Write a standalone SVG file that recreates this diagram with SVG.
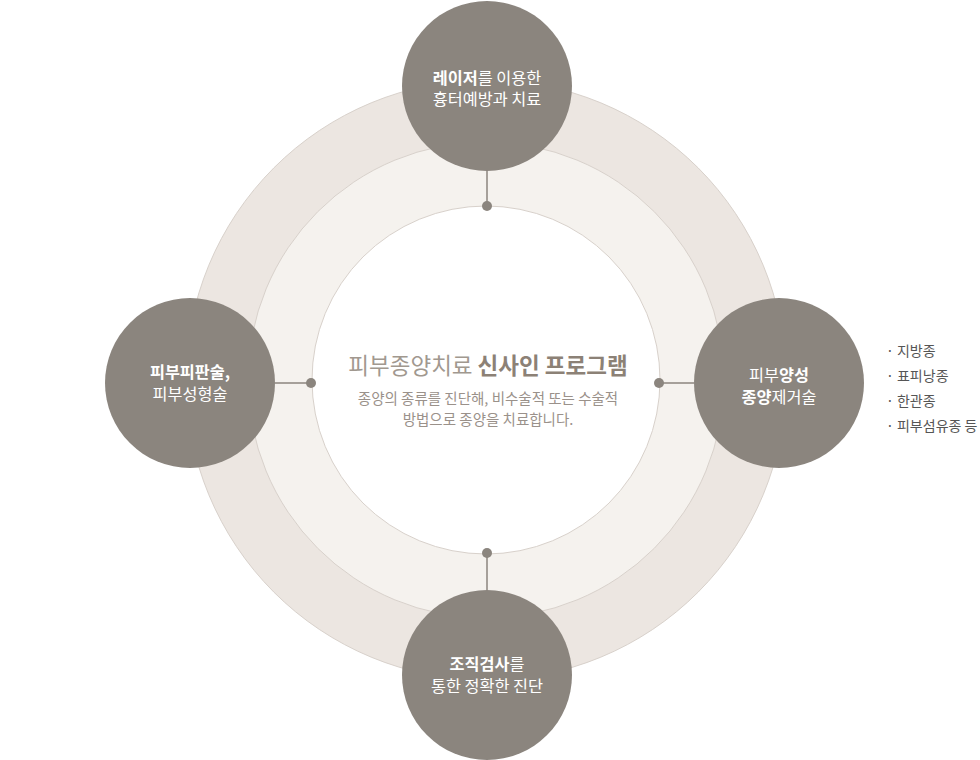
<svg xmlns="http://www.w3.org/2000/svg" width="980" height="760" viewBox="0 0 980 760">
<style>
text{font-family:"Noto Sans CJK KR","Noto Sans",sans-serif;}
.node{fill:#8b857e;}
.nt{fill:#ffffff;font-size:16.3px;text-anchor:middle;}
.b{font-weight:bold;}
.conn line{stroke:#8b857e;stroke-width:1.5;}
.conn circle{fill:#8b857e;}
.list{fill:#555;font-size:14px;}
</style>
<g id="rings">
<circle cx="486" cy="380" r="300" fill="#ece6e1" stroke="#d8d1cb" stroke-width="1"/>
<circle cx="486" cy="380" r="238" fill="#f5f2ee" stroke="#d8d1cb" stroke-width="1"/>
<circle cx="486" cy="380" r="174" fill="#ffffff" stroke="#d8d1cb" stroke-width="1"/>
</g>
<g id="connectors" class="conn">
<line x1="487" y1="171" x2="487" y2="206"/>
<circle cx="487" cy="206" r="5"/>
<line x1="275" y1="383" x2="311" y2="383"/>
<circle cx="311" cy="383" r="5"/>
<line x1="659" y1="383" x2="694" y2="383"/>
<circle cx="659" cy="383" r="5"/>
<line x1="487" y1="553" x2="487" y2="590"/>
<circle cx="487" cy="553" r="5"/>
</g>
<g id="center">
<text x="488" y="374" text-anchor="middle" font-size="22.5" fill="#a1988f">피부종양치료 <tspan class="b" fill="#8c8176">신사인 프로그램</tspan></text>
<text x="488" y="404" text-anchor="middle" font-size="14.5" fill="#9a918a">종양의 종류를 진단해, 비수술적 또는 수술적</text>
<text x="488" y="425" text-anchor="middle" font-size="14.5" fill="#9a918a">방법으로 종양을 치료합니다.</text>
</g>
<g id="node-top">
<circle class="node" cx="487" cy="86" r="85"/>
<text class="nt" x="487" y="84"><tspan class="b">레이저</tspan>를 이용한</text>
<text class="nt" x="487" y="105">흉터예방과 치료</text>
</g>
<g id="node-left">
<circle class="node" cx="190" cy="383" r="85"/>
<text class="nt b" x="190" y="378">피부피판술,</text>
<text class="nt" x="190" y="400">피부성형술</text>
</g>
<g id="node-right">
<circle class="node" cx="779" cy="383" r="85"/>
<text class="nt" x="779" y="381">피부<tspan class="b">양성</tspan></text>
<text class="nt" x="779" y="403"><tspan class="b">종양</tspan>제거술</text>
</g>
<g id="node-bottom">
<circle class="node" cx="487" cy="675" r="85"/>
<text class="nt" x="487" y="670"><tspan class="b">조직검사</tspan>를</text>
<text class="nt" x="487" y="692">통한 정확한 진단</text>
</g>
<g id="list" class="list">
<text x="886" y="356">· 지방종</text>
<text x="886" y="381">· 표피낭종</text>
<text x="886" y="406">· 한관종</text>
<text x="886" y="431">· 피부섬유종 등</text>
</g>
</svg>
